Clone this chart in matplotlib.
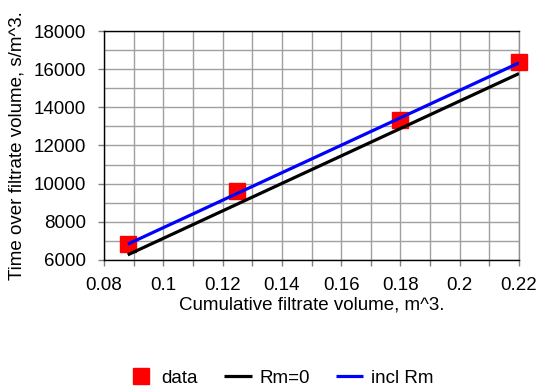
import numpy as np
import matplotlib.pyplot as plt
from matplotlib.ticker import MultipleLocator, FuncFormatter

plt.rcParams['font.family'] = ['Liberation Sans', 'DejaVu Sans']

# data
vol = [0.088, 0.125, 0.180, 0.220]
t_over_v = [6830, 9600, 13350, 16370]

# fitted lines
fit_x = [0.088, 0.220]
rm0_y = [6270, 15770]
incl_rm_y = [6830, 16330]

W, H = 537, 390
fig = plt.figure(figsize=(W / 100, H / 100), dpi=100)
ax = fig.add_axes([104 / W, 1 - 260 / H, 415 / W, 229 / H])

ax.plot(vol, t_over_v, 's', color='#ff0000', markersize=12, label='data',
        zorder=3, clip_on=False)
ax.plot(fit_x, rm0_y, color='black', lw=2.3, label='Rm=0', zorder=4,
        solid_capstyle='butt')
ax.plot(fit_x, incl_rm_y, color='#0000ff', lw=2.3, label='incl Rm', zorder=5,
        solid_capstyle='butt')

ax.set_xlim(0.08, 0.22)
ax.set_ylim(6000, 18000)
ax.xaxis.set_major_locator(MultipleLocator(0.02))
ax.xaxis.set_minor_locator(MultipleLocator(0.01))
ax.yaxis.set_major_locator(MultipleLocator(2000))
ax.yaxis.set_minor_locator(MultipleLocator(1000))
ax.xaxis.set_major_formatter(FuncFormatter(lambda v, p: ('%.2f' % v).rstrip('0')))
ax.grid(True, which='both', color='#a0a0a0', lw=1.0)
ax.tick_params(which='both', length=4, width=1, color='#808080',
               labelsize=13.5, direction='out')
ax.tick_params(axis='x', pad=8)
ax.tick_params(axis='y', pad=9)
ax.tick_params(axis='y', which='minor', length=0)
for s in ax.spines.values():
    s.set_color('black')
    s.set_linewidth(1.0)
ax.spines['right'].set_color('#909090')
ax.set_axisbelow(True)

ax.set_xlabel('Cumulative filtrate volume, m^3.', fontsize=13.5, labelpad=2)
ax.set_ylabel('Time over filtrate volume, s/m^3.', fontsize=13.5, labelpad=6)

fig.legend(loc='center', bbox_to_anchor=(280 / W, 1 - 378 / H), ncol=3,
           frameon=False, fontsize=13.5, handlelength=1.45, columnspacing=1.4,
           handletextpad=0.4, markerscale=0.95)

fig.savefig('out.png', dpi=100)
